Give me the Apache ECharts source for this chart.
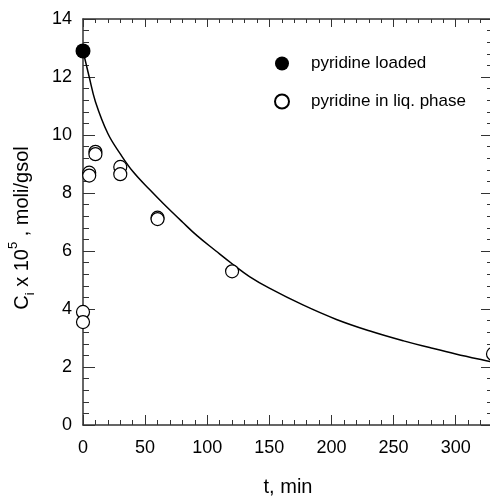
<!DOCTYPE html>
<html>
<head>
<meta charset="utf-8">
<script src="https://cdn.jsdelivr.net/npm/echarts@6/dist/echarts.min.js"></script>
<style>
  html, body { margin: 0; padding: 0; background: #fff; }
  #chart { width: 490px; height: 496px; }
</style>
</head>
<body>
<div id="chart"></div>
<script>
// data
var loaded = [[0, 12.9]];
var liqPhase = [
  [0, 3.9], [0, 3.55], [5, 8.7], [5, 8.6], [10, 9.42], [10, 9.34],
  [30, 8.9], [30, 8.65], [60, 7.15], [60, 7.1], [120, 5.3], [330, 2.45]
];
// fitted curve, points
var fitT = [0, 5, 10, 20, 30, 40, 54, 65, 80, 92, 107, 120, 134, 150, 177, 204, 231, 258, 279, 300, 322, 330];
var fitC = [12.9, 12.0, 11.15, 10.05, 9.35, 8.75, 8.1, 7.62, 7.0, 6.52, 6.0, 5.56, 5.12, 4.72, 4.14, 3.64, 3.24, 2.9, 2.67, 2.45, 2.24, 2.17];
var xTicks = { min: 0, max: 330, interval: 50 };
var yTicks = { min: 0, max: 14, interval: 2 };

var fitData = fitT.map(function (t, i) { return [t, fitC[i]]; });

var font = "'Liberation Sans', Arial, sans-serif";
var axisLine = { onZero: false, lineStyle: { color: '#333', width: 1.5 } };

var chartDom = document.getElementById('chart');
var myChart = echarts.init(chartDom);

myChart.setOption({
  animation: false,
  backgroundColor: '#fff',
  textStyle: { fontFamily: font, color: '#000' },
  grid: { left: 83, right: -3, top: 19, bottom: 71, containLabel: false, outerBoundsMode: 'none' },
  legend: {
    data: ['pyridine loaded', 'pyridine in liq. phase'],
    orient: 'vertical',
    left: 269,
    top: 50,
    itemWidth: 48,
    itemHeight: 14,
    itemGap: 21,
    textStyle: { fontFamily: font, fontSize: 17, color: '#000' }
  },
  xAxis: [{
    type: 'value',
    min: xTicks.min, max: xTicks.max, interval: xTicks.interval,
    position: 'bottom',
    axisLine: axisLine,
    axisTick: { inside: true, length: 10, lineStyle: { color: '#333' } },
    minorTick: { show: true, splitNumber: 5, length: 5, lineStyle: { color: '#333' } },
    splitLine: { show: false },
    axisLabel: { fontFamily: font, fontSize: 18, color: '#000', margin: 14, showMaxLabel: false },
    name: 't, min',
    nameLocation: 'middle',
    nameGap: 52,
    nameTextStyle: { fontFamily: font, fontSize: 20, color: '#000' }
  }, {
    type: 'value',
    min: xTicks.min, max: xTicks.max, interval: xTicks.interval,
    position: 'top',
    axisLine: axisLine,
    axisTick: { inside: true, length: 8, lineStyle: { color: '#333' } },
    minorTick: { show: true, splitNumber: 5, length: 4, lineStyle: { color: '#333' } },
    splitLine: { show: false },
    axisLabel: { show: false }
  }],
  yAxis: [{
    type: 'value',
    min: yTicks.min, max: yTicks.max, interval: yTicks.interval,
    position: 'left',
    axisLine: axisLine,
    axisTick: { inside: true, length: 12, lineStyle: { color: '#333' } },
    minorTick: { show: true, splitNumber: 5, length: 6, lineStyle: { color: '#333' } },
    splitLine: { show: false },
    axisLabel: { fontFamily: font, fontSize: 18, color: '#000', margin: 11 },
    name: '{a|C}{sub|i}{a| x 10}{sup|5}{a| , moli/gsol}',
    nameLocation: 'middle',
    nameRotate: 90,
    nameGap: 46,
    nameTextStyle: {
      padding: [0, 12, 0, 0],
      rich: {
        a: { fontFamily: font, fontSize: 20, color: '#000', lineHeight: 30 },
        sub: { fontFamily: font, fontSize: 13, color: '#000', lineHeight: 13, verticalAlign: 'bottom' },
        sup: { fontFamily: font, fontSize: 13, color: '#000', lineHeight: 13, verticalAlign: 'top' }
      }
    }
  }, {
    type: 'value',
    min: yTicks.min, max: yTicks.max, interval: yTicks.interval,
    position: 'right',
    axisLine: axisLine,
    axisTick: { inside: true, length: 12, lineStyle: { color: '#333' } },
    minorTick: { show: true, splitNumber: 5, length: 6, lineStyle: { color: '#333' } },
    splitLine: { show: false },
    axisLabel: { show: false }
  }],
  series: [{
    name: 'fit',
    type: 'line',
    data: fitData,
    smooth: 0.4,
    showSymbol: false,
    silent: true,
    lineStyle: { color: '#000', width: 1.5 },
    z: 1
  }, {
    name: 'pyridine in liq. phase',
    type: 'scatter',
    data: liqPhase,
    symbol: 'circle',
    symbolSize: 13,
    itemStyle: { color: '#fff', borderColor: '#000', borderWidth: 1.2, opacity: 1 },
    z: 3
  }, {
    name: 'pyridine loaded',
    type: 'scatter',
    data: loaded,
    symbol: 'circle',
    symbolSize: 15,
    itemStyle: { color: '#000', opacity: 1 },
    z: 4
  }]
});
</script>
</body>
</html>
